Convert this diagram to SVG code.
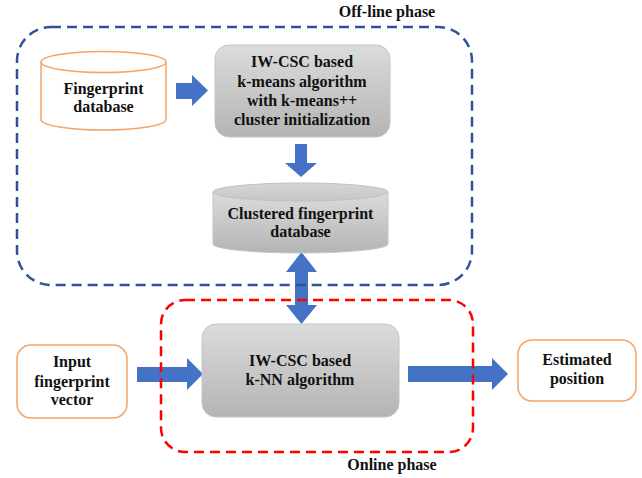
<svg xmlns="http://www.w3.org/2000/svg" width="642" height="478" viewBox="0 0 642 478">
  <defs>
    <linearGradient id="gray" x1="0" y1="0" x2="0" y2="1">
      <stop offset="0" stop-color="#dcdcdc"/>
      <stop offset="1" stop-color="#b4b4b4"/>
    </linearGradient>
    <linearGradient id="grayTop" x1="0" y1="0" x2="0" y2="1">
      <stop offset="0" stop-color="#d6d6d6"/>
      <stop offset="1" stop-color="#c6c6c6"/>
    </linearGradient>
    <style>
      text { font-family: "Liberation Serif", "Times New Roman", serif; font-weight: bold; font-size: 16px; fill: #111; text-anchor: middle; }
      .proc { fill: url(#gray); stroke: #c4c4c4; stroke-width: 1; }
      .io { fill: #ffffff; stroke: #F4A466; stroke-width: 1.5; }
      .arrow { fill: #4472C4; stroke: none; }
      .phaseBlue { fill: none; stroke: #2F5597; stroke-width: 2.5; stroke-dasharray: 10 6; }
      .phaseRed { fill: none; stroke: #FF0000; stroke-width: 2.5; stroke-dasharray: 10 6; }
    </style>
  </defs>
  <rect width="642" height="478" fill="#ffffff"/>

  <g id="connectors">
    <polygon class="arrow" points="176,83 192,83 192,75 208,90.5 192,106 192,99 176,99"/>
    <polygon class="arrow" points="295,144 307,144 307,163 317,163 301,177 285,163 295,163"/>
    <polygon class="arrow" points="301.5,252 317,272 308,272 308,305 317,305 301.5,324 286,305 295,305 295,272 286,272"/>
    <polygon class="arrow" points="137,367 187,367 187,358 203,374 187,390 187,382 137,382"/>
    <polygon class="arrow" points="408,366 492,366 492,358 508,374 492,390 492,382 408,382"/>
  </g>

  <g id="offline-phase">
    <rect class="phaseBlue" x="17" y="27" width="455" height="258" rx="34" ry="34"/>
    <text x="387" y="17">Off-line phase</text>
  </g>

  <g id="online-phase">
    <rect class="phaseRed" x="161" y="300" width="312" height="152" rx="24" ry="24"/>
    <text x="392" y="470">Online phase</text>
  </g>

  <g id="fingerprint-db">
    <path class="io" d="M41,62 L41,119.5 A62.5,10.5 0 0 0 166,119.5 L166,62"/>
    <ellipse class="io" cx="103.5" cy="62" rx="62.5" ry="10.5"/>
    <text x="103.5" y="94">Fingerprint</text>
    <text x="103.5" y="112">database</text>
  </g>

  <g id="kmeans">
    <rect class="proc" x="215" y="45" width="175" height="92" rx="14" ry="14"/>
    <text x="302" y="67">IW-CSC based</text>
    <text x="302" y="87">k-means algorithm</text>
    <text x="302" y="106">with k-means++</text>
    <text x="302" y="125">cluster initialization</text>
  </g>

  <g id="clustered-db">
    <path d="M213,192 L213,244 A87.5,9 0 0 0 388,244 L388,192 Z" fill="url(#gray)" stroke="#c4c4c4" stroke-width="1"/>
    <ellipse cx="300.5" cy="192" rx="87.5" ry="9" fill="url(#grayTop)" stroke="#c0c0c0" stroke-width="1"/>
    <text x="300.5" y="219">Clustered fingerprint</text>
    <text x="300.5" y="237">database</text>
  </g>

  <g id="knn">
    <rect class="proc" x="202" y="324" width="197" height="93" rx="14" ry="14"/>
    <text x="300" y="366">IW-CSC based</text>
    <text x="300" y="385">k-NN algorithm</text>
  </g>

  <g id="input">
    <rect class="io" x="17" y="345" width="110" height="73" rx="14" ry="14"/>
    <text x="72" y="367">Input</text>
    <text x="72" y="387">fingerprint</text>
    <text x="72" y="405">vector</text>
  </g>

  <g id="estimated">
    <rect class="io" x="518" y="340" width="118" height="61" rx="14" ry="14"/>
    <text x="577" y="365">Estimated</text>
    <text x="577" y="384">position</text>
  </g>
</svg>
